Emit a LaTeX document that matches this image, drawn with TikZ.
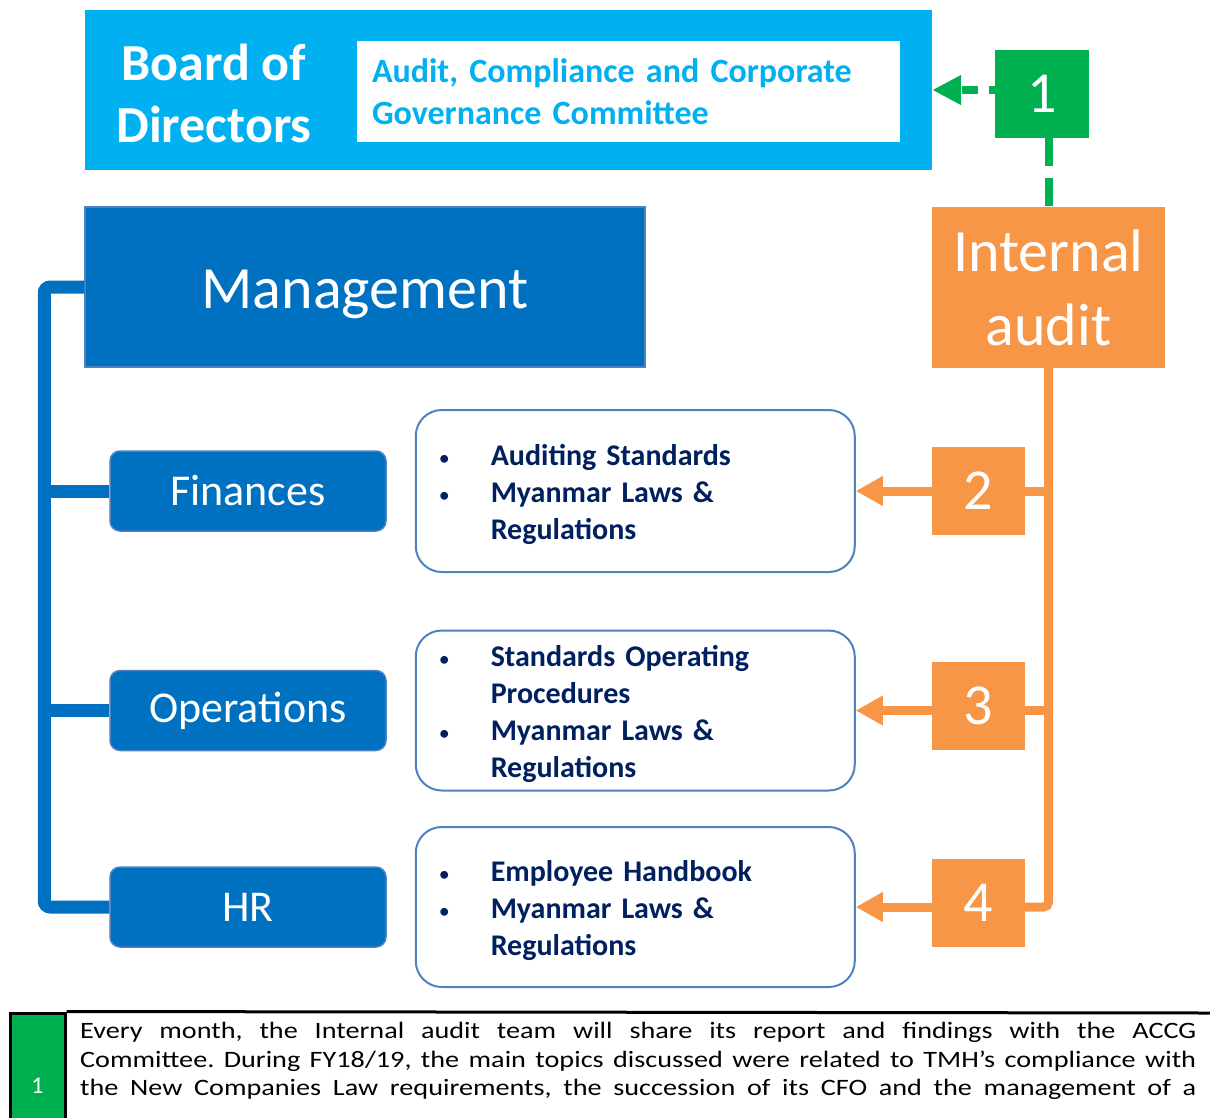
\documentclass[tikz,border=0pt]{standalone}
\usepackage{fontspec}
\setmainfont{Carlito}
\newfontfamily\notefont[FakeStretch=1.2]{Carlito}
\usepackage{xcolor}
\usetikzlibrary{arrows.meta,positioning,calc}

\definecolor{boardcyan}{HTML}{00B0F0}
\definecolor{stepgreen}{HTML}{00B050}
\definecolor{auditorange}{HTML}{F79646}
\definecolor{mgmtblue}{HTML}{0070C0}
\definecolor{edgeblue}{HTML}{4F81BD}
\definecolor{navy}{HTML}{002060}

\newcommand{\bitem}[1]{\makebox[52pt][l]{\mdseries\fontsize{22}{22}\selectfont\textbullet}#1}
\newcommand{\bcont}[1]{\hspace*{52pt}#1}

\begin{document}
\begin{tikzpicture}[
    x=1pt, y=-1pt,
    font=\fontsize{24}{29}\selectfont,
    solid_box/.style={rectangle, inner sep=0pt, align=center, text=white},
    board_box/.style={solid_box, fill=boardcyan, minimum width=847pt, minimum height=160pt},
    step_box/.style={solid_box, fill=stepgreen, minimum width=94pt, minimum height=88pt, font=\fontsize{58}{70}\selectfont},
    num_box/.style={solid_box, fill=auditorange, minimum width=93pt, minimum height=88pt, font=\fontsize{58}{70}\selectfont},
    mgmt_box/.style={solid_box, fill=mgmtblue, draw=edgeblue, line width=1.5pt, minimum width=560pt, minimum height=160pt},
    unit_box/.style={solid_box, fill=mgmtblue, draw=edgeblue, line width=1.5pt, rounded corners=10pt, minimum width=276pt, minimum height=80pt, font=\fontsize{44}{52}\selectfont},
    list_box/.style={rectangle, draw=edgeblue, line width=2pt, rounded corners=26pt, fill=white, inner xsep=23pt, inner ysep=0pt, text width=393pt, minimum height=160pt, align=left, text=navy, font=\fontsize{30}{37}\selectfont\bfseries},
    mgmt_line/.style={draw=mgmtblue, line width=13pt},
    audit_line/.style={draw=auditorange, line width=9pt},
    audit_arrow/.style={audit_line, -{Triangle[length=27pt, width=28pt]}},
    report_arrow/.style={draw=stepgreen, line width=8pt}
]

    % --- 1. Board and committee ---
    \useasboundingbox (0,0) rectangle (1210,1117);
    \node[board_box] (board) at (508.5,90) {};
    \node[text=white, align=center, font=\fontsize{52}{62}\selectfont\bfseries] (board_txt) at (214,93) {Board of\\Directors};
    \node[rectangle, fill=white, inner xsep=15pt, inner ysep=0pt, text width=513pt, minimum height=101pt, align=left, text=boardcyan, font=\fontsize{34}{42}\selectfont\bfseries] (accg) at (628.5,91.5) {Audit, Compliance and Corporate\\Governance Committee};
    \node[step_box] (step1) at (1042,94) {1};

    % --- 2. Management side ---
    \node[mgmt_box, text height=46pt, text depth=4pt] (mgmt) at (365,287) {\fontsize{60}{72}\selectfont Management};
    \node[unit_box] (fin) at (248,491) {Finances};
    \node[unit_box, below=138pt of fin] (ops) {Operations};
    \node[unit_box, below=115pt of ops] (hr) {HR};

    % control lists
    \node[list_box, minimum height=162pt, right=28pt of fin] (fin_list) {\rule{0pt}{28pt}\bitem{Auditing Standards}\\\bitem{Myanmar Laws \&}\\\bcont{Regulations}};
    \node[list_box, right=28pt of ops] (ops_list) {\rule{0pt}{28pt}\bitem{Standards Operating}\\\bcont{Procedures}\\\bitem{Myanmar Laws \&}\\\bcont{Regulations}};
    \node[list_box, right=28pt of hr] (hr_list) {\rule{0pt}{28pt}\bitem{Employee Handbook}\\\bitem{Myanmar Laws \&}\\\bcont{Regulations}};

    % --- 3. Internal audit side ---
    \node[solid_box, fill=auditorange, minimum width=233pt, minimum height=161pt, font=\fontsize{60}{74}\selectfont] (audit) at (1048.5,287.5) {Internal\\audit};
    \node[num_box, right=76pt of fin_list] (num2) {2};
    \node[num_box, right=76pt of ops_list, yshift=5pt] (num3) {3};
    \node[num_box, right=76pt of hr_list, yshift=4pt] (num4) {4};

    % --- 4. Connections ---
    \coordinate (spine) at ($(mgmt.west)+(-40,0)$);
    \draw[mgmt_line, rounded corners=6pt] (mgmt.west) -- (spine) |- (hr.west);
    \draw[mgmt_line] (spine |- fin.west) -- (fin.west);
    \draw[mgmt_line] (spine |- ops.west) -- (ops.west);

    \draw[audit_line, rounded corners=5pt] (audit.south) |- (num4.east |- hr_list.east);
    \draw[audit_line] (num2.east |- fin_list.east) -- (audit.south |- fin_list.east);
    \draw[audit_line] (num3.east |- ops_list.east) -- (audit.south |- ops_list.east);
    \draw[audit_arrow] (num2.west |- fin_list.east) -- (fin_list.east);
    \draw[audit_arrow] (num3.west |- ops_list.east) -- (ops_list.east);
    \draw[audit_arrow] (num4.west |- hr_list.east) -- (hr_list.east);

    \draw[report_arrow, dash pattern=on 16pt off 11pt, dash phase=10pt, -{Triangle[length=29pt, width=28pt]}] (step1.west |- board.east) -- (board.east);
    \draw[report_arrow, dash pattern=on 28pt off 12pt] (audit.north |- step1.south) -- (audit.north);

    % --- 5. Note table ---
    \node[rectangle, fill=stepgreen, draw=black, line width=3pt, minimum width=55pt, minimum height=146pt, text=white, inner sep=0pt] (note_num) at (37.5,1086) {1};
    \draw[black, line width=3pt] (note_num.north east) -- (1210,1013);
    \node[anchor=north west, inner sep=0pt, text width=1116pt, align=justify, font=\notefont\fontsize{23.5}{28.7}\selectfont] (note_txt) at (80,1022) {%
        \frenchspacing
        Every month, the Internal audit team will share its report and findings with the ACCG\linebreak
        Committee. During FY18/19, the main topics discussed were related to TMH’s compliance with\linebreak
        the New Companies Law requirements, the succession of its CFO and the management of a\linebreak};

\end{tikzpicture}
\end{document}
